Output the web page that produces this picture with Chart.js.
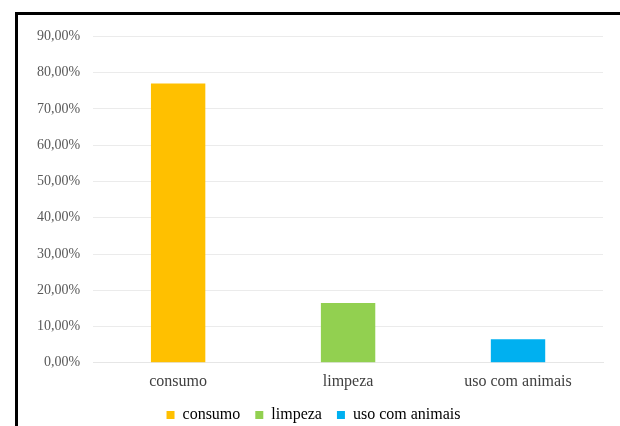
<!DOCTYPE html>
<html>
<head>
<meta charset="utf-8">
<script src="https://cdn.jsdelivr.net/npm/chart.js@4"></script>
<style>
  body { margin: 0; background: #fff; overflow: hidden; }
  #frame {
    position: absolute; left: 15px; top: 12px;
    width: 605px; height: 418px;
    border-top: 3px solid #000; border-left: 3px solid #000;
  }
  #frame canvas { display: block; }
</style>
</head>
<body>
<div id="frame"><canvas id="myChart" width="605" height="418"></canvas></div>
<script>
var categories = ['consumo', 'limpeza', 'uso com animais'];
var values = [77.0, 16.5, 6.5];
var colors = ['#ffc000', '#92d050', '#00b0f0'];
var yTicks = [0, 10, 20, 30, 40, 50, 60, 70, 80, 90];

function pct(v) {
  return v.toFixed(2).replace('.', ',') + '%';
}

var family = '"Liberation Serif", "Times New Roman", serif';

var ctx = document.getElementById('myChart');
var myChart = new Chart(ctx, {
  type: 'bar',
  data: {
    labels: categories,
    datasets: [{
      data: values,
      backgroundColor: colors,
      categoryPercentage: 1,
      barPercentage: 0.32
    }]
  },
  options: {
    responsive: false,
    animation: false,
    layout: { padding: { left: 6, right: 20, top: 9, bottom: 0 } },
    plugins: {
      tooltip: { enabled: false },
      legend: {
        position: 'bottom',
        labels: {
          font: { family: family, size: 16 },
          color: '#404040',
          boxWidth: 8,
          boxHeight: 8,
          padding: 15,
          generateLabels: function () {
            return categories.map(function (c, i) {
              return { text: c, fillStyle: colors[i], strokeStyle: colors[i], lineWidth: 0, index: i };
            });
          }
        }
      }
    },
    scales: {
      x: {
        grid: { display: false },
        border: { color: '#e6e6e6' },
        ticks: { font: { family: family, size: 16 }, color: '#404040', padding: 1 }
      },
      y: {
        min: 0,
        max: 90,
        afterBuildTicks: function (axis) {
          axis.ticks = yTicks.map(function (v) { return { value: v }; });
        },
        grid: { color: '#ebebeb', drawTicks: false },
        border: { display: false },
        ticks: {
          font: { family: family, size: 14 },
          color: '#595959',
          padding: 13,
          callback: function (v) { return pct(v); }
        }
      }
    }
  }
});
</script>
</body>
</html>
